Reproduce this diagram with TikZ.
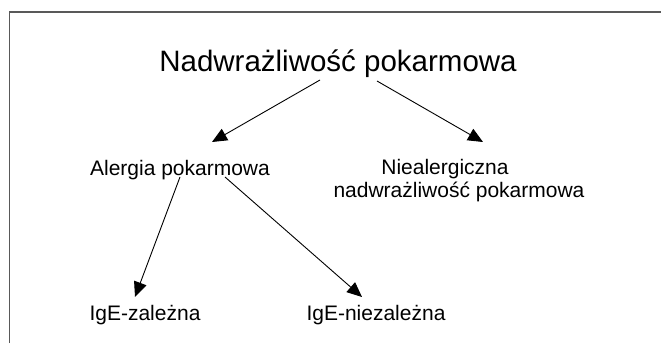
\documentclass[tikz,border=0pt]{standalone}
\usepackage{fontspec}
\setmainfont{Liberation Sans}
\usetikzlibrary{arrows.meta,calc}

\begin{document}
\begin{tikzpicture}[x=1pt,y=1pt,
  frame/.style={draw=black!65,line width=1.6pt},
  lbl/.style={inner sep=0pt,anchor=base,font=\fontsize{21}{24}\selectfont},
  head/.style={inner sep=0pt,anchor=base,font=\fontsize{29.5}{33}\selectfont},
  arr/.style={draw=black,line width=0.9pt,-{Triangle[length=15pt,width=13pt]}}]
  \useasboundingbox (0,0) rectangle (661,343);

  % open frame: top edge and left edge only
  \coordinate (fa) at (9.5,0);
  \coordinate (fb) at (9.5,331);
  \coordinate (fc) at (661,331);
  \draw[frame] (fa) -- (fb) -- (fc);

  % labels
  \node[head] (title) at (338,271) {Nadwrażliwość pokarmowa};
  \node[lbl] (alergia) at (180,167) {Alergia pokarmowa};
  \node[lbl] (niealerg) at (445,168) {Niealergiczna};
  \node[lbl] (niealergb) at (459,146) {nadwrażliwość pokarmowa};
  \node[lbl] (igez) at (145,23) {IgE-zależna};
  \node[lbl] (igen) at (376,23) {IgE-niezależna};

  % connectors
  \draw[arr] ($(title.base)+(-18,-8)$) -- ($(alergia.base)+(32,34)$);
  \draw[arr] ($(title.base)+(39,-9)$) -- ($(niealerg.base)+(38,33)$);
  \draw[arr] ($(alergia.base)+(0,-1)$) -- ($(igez.base)+(-10,23)$);
  \draw[arr] ($(alergia.base)+(45,-1)$) -- ($(igen.base)+(-14,23)$);
\end{tikzpicture}
\end{document}
